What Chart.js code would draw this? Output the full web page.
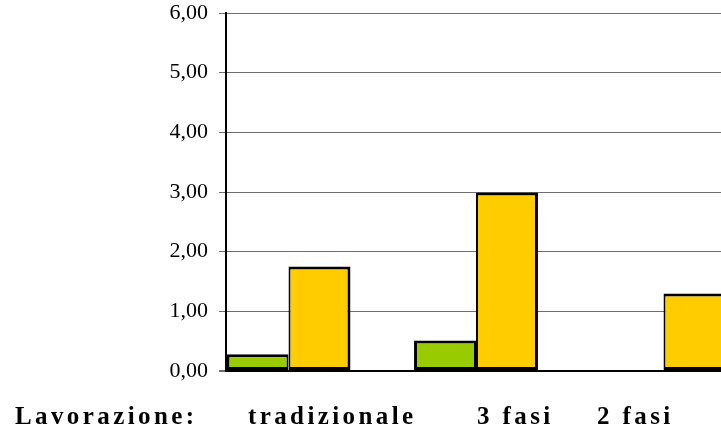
<!DOCTYPE html>
<html>
<head>
<meta charset="utf-8">
<script src="https://cdn.jsdelivr.net/npm/chart.js@4/dist/chart.umd.min.js"></script>
<style>
  html, body { margin: 0; padding: 0; background: #fff; overflow: hidden; }
  #wrap { position: relative; width: 740px; height: 431px; }
</style>
</head>
<body>
<div id="wrap"><canvas id="c" width="740" height="431"></canvas></div>
<script>
// Processing methods and the two measured series
const categories = ['tradizionale', '3 fasi', '2 fasi'];
const rowTitle = 'Lavorazione:';
const seriesGreen = [0.28, 0.51, 0];
const seriesOrange = [1.75, 2.99, 1.30];
const yTicks = [0, 1, 2, 3, 4, 5, 6];

const GREEN = '#99CC00';
const ORANGE = '#FFCC00';

const toPoints = arr => arr.map((v, i) => ({ x: i + 1, y: v }));

// Row of method names printed under the plot
const rowLabelsPlugin = {
  id: 'rowLabels',
  afterDraw(chart) {
    const ctx = chart.ctx;
    ctx.save();
    ctx.font = 'bold 25px "Liberation Serif", "Times New Roman", serif';
    ctx.fillStyle = '#000';
    ctx.textBaseline = 'alphabetic';
    ctx.textAlign = 'left';
    ctx.letterSpacing = '3.4px';
    const texts = [rowTitle].concat(categories);
    const xs = [15, 248, 477, 597];
    texts.forEach((t, i) => ctx.fillText(t, xs[i], 424));
    ctx.restore();
  }
};

new Chart(document.getElementById('c'), {
  type: 'bar',
  data: {
    datasets: [
      {
        data: toPoints(seriesGreen),
        backgroundColor: GREEN,
        borderColor: '#000',
        borderWidth: { top: 3, left: 3, bottom: 3, right: 2 },
        borderSkipped: false
      },
      {
        data: toPoints(seriesOrange),
        backgroundColor: ORANGE,
        borderColor: '#000',
        borderWidth: { top: 3, left: 2, bottom: 3, right: 3 },
        borderSkipped: false
      }
    ]
  },
  options: {
    responsive: false,
    animation: false,
    devicePixelRatio: 1,
    layout: { padding: { top: 13, right: 14, bottom: 60, left: 0 } },
    plugins: {
      legend: { display: false },
      tooltip: { enabled: false }
    },
    datasets: {
      bar: { categoryPercentage: 0.661, barPercentage: 1 }
    },
    scales: {
      x: {
        type: 'linear',
        offset: false,
        min: 2 / 3,
        max: categories.length + 1 / 3,
        display: false,
        afterBuildTicks: s => { s.ticks = categories.map((_, i) => ({ value: i + 1 })); }
      },
      y: {
        min: 0,
        max: 6,
        afterBuildTicks: s => { s.ticks = yTicks.map(v => ({ value: v })); },
        afterFit: s => { s.width = 226; s.paddingTop = 0; s.paddingBottom = 0; },
        ticks: {
          padding: 11,
          color: '#000',
          font: { family: '"Liberation Serif", "Times New Roman", serif', size: 22 },
          callback: v => v.toFixed(2).replace('.', ',')
        },
        grid: {
          color: c => (c.tick && c.tick.value === 0) ? '#000' : '#6e6e6e',
          lineWidth: c => (c.tick && c.tick.value === 0) ? 2 : 1,
          tickColor: '#6e6e6e',
          tickLength: 7
        },
        border: { color: '#000', width: 2 }
      }
    }
  },
  plugins: [rowLabelsPlugin]
});
</script>
</body>
</html>
